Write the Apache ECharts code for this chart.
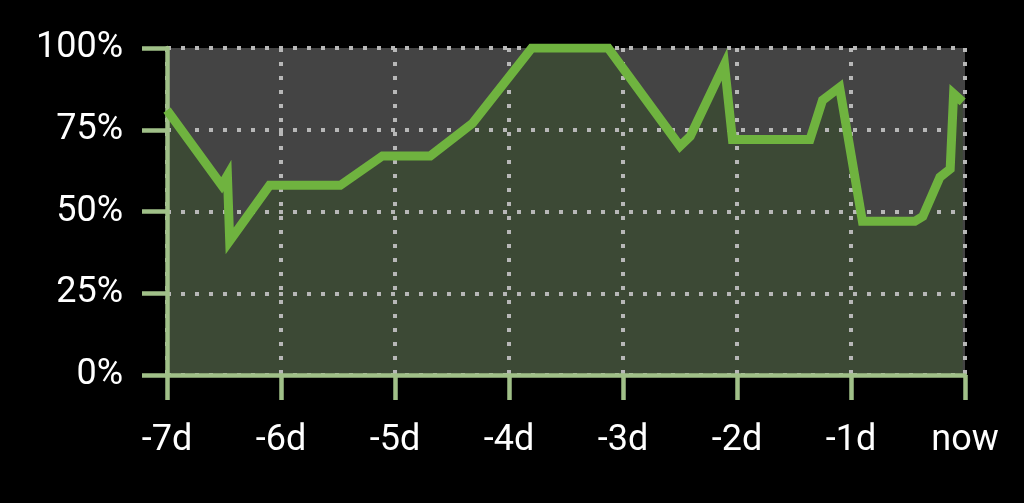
<!DOCTYPE html>
<html>
<head>
<meta charset="utf-8">
<script src="https://cdn.jsdelivr.net/npm/echarts@6/dist/echarts.min.js"></script>
<style>
html,body{margin:0;padding:0;background:#000;}
#c{width:1024px;height:503px;}
</style>
</head>
<body>
<div id="c"></div>
<script>
// time offsets in days (0 = now)
const days = [-7.0, -6.52, -6.47, -6.45, -6.10, -5.48, -5.11, -4.69, -4.32, -3.80, -3.13, -2.50, -2.41, -2.11, -2.04, -1.36, -1.25, -1.10, -0.90, -0.44, -0.37, -0.22, -0.13, -0.10, -0.02];
const values = [81, 58, 61, 41, 58, 58, 67, 67, 77, 100, 100, 70, 73, 95, 72, 72, 84, 88, 47, 47, 48.5, 60.5, 63, 86, 83.5];
const yTicks = [0, 25, 50, 75, 100];
const xTickLabels = {'-7': '-7d', '-6': '-6d', '-5': '-5d', '-4': '-4d', '-3': '-3d', '-2': '-2d', '-1': '-1d', '0': 'now'};

const data = days.map((d, i) => [d, values[i]]);
const chart = echarts.init(document.getElementById('c'), null, {renderer: 'canvas'});
const axisColor = '#a0c088';
const gridLine = {show: true, lineStyle: {color: '#b8b8b8', width: 4, type: [4, 10]}};
chart.setOption({
  backgroundColor: '#000',
  animation: false,
  grid: {left: 167, right: 59, top: 48, bottom: 128, show: true, backgroundColor: '#444444', borderWidth: 0, z: 0},
  xAxis: {
    type: 'value', min: -7, max: 0, interval: 1, z: 5,
    axisLine: {show: true, onZero: false, lineStyle: {color: axisColor, width: 4.5}},
    axisTick: {show: true, length: 25, lineStyle: {color: axisColor, width: 4.5}},
    splitLine: gridLine,
    axisLabel: {color: '#fff', fontSize: 36, fontFamily: 'Roboto', margin: 48,
      formatter: v => xTickLabels[String(Math.round(v))] || ''}
  },
  yAxis: {
    type: 'value', min: yTicks[0], max: yTicks[yTicks.length - 1], interval: 25, z: 5,
    axisLine: {show: true, onZero: false, lineStyle: {color: axisColor, width: 4.5}},
    axisTick: {show: true, length: 25, lineStyle: {color: axisColor, width: 4.5}},
    splitLine: gridLine,
    axisLabel: {color: '#fff', fontSize: 36, fontFamily: 'Roboto', margin: 44, formatter: '{value}%'}
  },
  series: [{
    type: 'line', data: data, showSymbol: false, symbol: 'none',
    lineStyle: {width: 0, opacity: 0},
    areaStyle: {color: '#3c4935', opacity: 1},
    z: 2
  }, {
    type: 'line', data: data, showSymbol: false, symbol: 'none',
    lineStyle: {color: '#6fb33f', width: 9, join: 'miter'},
    z: 10
  }]
});
</script>
</body>
</html>
